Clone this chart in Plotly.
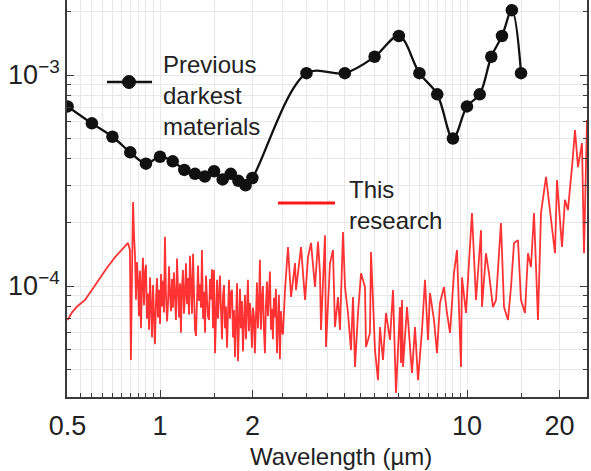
import numpy as np
import plotly.graph_objects as go

# Reflectance of earlier ultra-black materials (discrete measurements)
prev_wl = [0.5, 0.6, 0.7, 0.8, 0.9, 1.0, 1.1, 1.2, 1.3, 1.4, 1.5, 1.6, 1.7, 1.8, 1.9, 2.0,
           3, 4, 5, 6, 7, 8, 9, 10, 11, 12, 13, 14, 15]
prev_refl = [7.1e-4, 5.9e-4, 5.1e-4, 4.3e-4, 3.8e-4, 4.1e-4, 3.9e-4, 3.55e-4, 3.4e-4, 3.3e-4,
             3.5e-4, 3.2e-4, 3.4e-4, 3.15e-4, 3.0e-4, 3.25e-4,
             1.02e-3, 1.02e-3, 1.22e-3, 1.53e-3, 1.02e-3, 8.1e-4, 5.0e-4, 7.1e-4, 8.1e-4,
             1.22e-3, 1.53e-3, 2.03e-3, 1.02e-3]

# Measured spectrum of this work, visible / near-IR detector (0.5-2.5 µm)
vis_wl = [
    0.500, 0.517, 0.537, 0.570, 0.600, 0.638, 0.672, 0.714, 0.752, 0.787,
    0.798, 0.804, 0.811, 0.817, 0.823, 0.829, 0.835, 0.841, 0.848, 0.854,
    0.861, 0.867, 0.874, 0.880, 0.887, 0.893, 0.900, 0.907, 0.914, 0.921,
    0.928, 0.935, 0.942, 0.949, 0.956, 0.963, 0.971, 0.978, 0.985, 0.993,
    1.000, 1.008, 1.015, 1.023, 1.030, 1.038, 1.046, 1.054, 1.062, 1.070,
    1.078, 1.086, 1.094, 1.102, 1.110, 1.119, 1.127, 1.136, 1.144, 1.153,
    1.162, 1.170, 1.179, 1.188, 1.197, 1.206, 1.215, 1.225, 1.234, 1.243,
    1.252, 1.262, 1.271, 1.281, 1.290, 1.300, 1.310, 1.320, 1.330, 1.340,
    1.350, 1.360, 1.370, 1.381, 1.391, 1.402, 1.412, 1.423, 1.433, 1.444,
    1.455, 1.466, 1.477, 1.488, 1.499, 1.511, 1.522, 1.534, 1.545, 1.557,
    1.568, 1.580, 1.592, 1.604, 1.616, 1.628, 1.640, 1.653, 1.665, 1.678,
    1.690, 1.703, 1.716, 1.729, 1.742, 1.755, 1.768, 1.782, 1.795, 1.808,
    1.822, 1.835, 1.849, 1.863, 1.877, 1.891, 1.906, 1.920, 1.934, 1.949,
    1.963, 1.978, 1.993, 2.008, 2.023, 2.038, 2.054, 2.069, 2.085, 2.100,
    2.116, 2.132, 2.148, 2.164, 2.180, 2.197, 2.213, 2.230, 2.247, 2.264,
    2.281, 2.298, 2.315, 2.333, 2.350, 2.368, 2.386, 2.404, 2.422, 2.440,
    2.458, 2.477, 2.496, 2.515,
]
# reflectance in units of 1e-5
vis_refl_e5 = [
    6.90, 7.50, 8.00, 8.60, 9.57, 11.0, 12.2, 13.7, 14.8, 16.0,
    14.8, 4.46, 12.0, 25.0, 17.5, 14.0, 8.6, 13.0, 10.5, 7.2,
    11.8, 6.3, 10.2, 13.6, 8.1, 11.5, 12.6, 7.0, 9.2, 6.2,
    11.0, 8.4, 5.7, 10.1, 7.4, 5.3, 8.8, 10.9, 7.1, 9.6,
    6.6, 11.4, 8.0, 10.6, 7.5, 17.1, 9.0, 6.8, 8.3, 12.4,
    9.1, 7.6, 10.8, 7.9, 11.6, 8.6, 6.9, 13.5, 9.3, 7.1,
    10.3, 6.0, 9.8, 11.9, 7.4, 9.0, 12.8, 8.2, 10.9, 7.3,
    13.9, 8.8, 7.4, 14.2, 9.5, 6.2, 5.8, 9.7, 12.5, 8.5,
    10.2, 7.9, 14.8, 7.0, 9.4, 6.0, 11.2, 8.7, 7.2, 6.9,
    10.8, 8.6, 12.0, 6.3, 11.9, 4.8, 8.6, 10.7, 7.0, 9.8,
    11.2, 7.7, 5.6, 9.0, 10.1, 6.3, 8.0, 5.1, 8.6, 10.7,
    7.0, 9.3, 9.6, 5.7, 7.7, 4.6, 6.9, 10.3, 4.4, 6.9,
    9.7, 6.3, 8.5, 4.9, 7.7, 9.1, 5.6, 8.6, 10.7, 6.1,
    8.3, 7.0, 5.1, 7.9, 7.2, 4.8, 8.6, 10.4, 6.3, 8.0,
    13.3, 6.2, 8.6, 10.0, 6.2, 4.8, 8.0, 10.5, 7.2, 9.1,
    11.7, 6.2, 7.8, 5.6, 8.8, 7.1, 9.7, 4.8, 6.9, 9.1,
    4.5, 7.6, 6.1, 5.9,
]

# Measured spectrum of this work, mid-IR detector (2.5-25 µm)
ir_wl = [
    2.554, 2.612, 2.672, 2.753, 2.773, 2.880, 2.968, 3.035, 3.104, 3.198,
    3.271, 3.320, 3.345, 3.447, 3.473, 3.579, 3.660, 3.715, 3.800, 3.857,
    3.945, 4.005, 4.096, 4.189, 4.253, 4.317, 4.416, 4.516, 4.653, 4.688,
    4.830, 4.867, 5.016, 5.130, 5.207, 5.326, 5.447, 5.613, 5.741, 5.871,
    6.050, 6.096, 6.141, 6.188, 6.377, 6.620, 6.771, 6.925, 7.136, 7.298,
    7.464, 7.577, 7.807, 7.985, 8.167, 8.415, 8.606, 8.802, 9.070, 9.276,
    9.560, 9.632, 9.925, 10.15, 10.38, 10.70, 11.11, 11.19, 11.53, 11.79,
    12.15, 12.43, 12.90, 13.20, 13.60, 13.91, 14.23, 14.66, 14.99, 15.45,
    15.80, 16.16, 16.53, 17.03, 17.42, 18.09, 18.64, 19.35, 19.64, 20.39,
    20.85, 21.32, 21.98, 22.48, 22.99, 23.69, 24.05, 24.60,
]
ir_refl_e5 = [
    9.6, 15.3, 8.87, 12.85, 9.57, 15.3, 8.58, 13.7, 16.0, 9.89,
    16.2, 11.5, 6.19, 17.4, 5.14, 12.85, 14.8, 6.39, 8.87, 6.19,
    18.0, 9.89, 7.45, 4.97, 8.87, 4.13, 7.45, 11.5, 9.89, 5.14,
    5.99, 14.5, 4.97, 3.58, 6.39, 4.46, 7.45, 5.55, 9.57, 3.11,
    7.95, 4.32, 8.58, 4.13, 7.95, 3.87, 6.39, 3.58, 6.19, 10.7,
    5.55, 9.27, 6.90, 4.81, 8.31, 9.89, 7.45, 5.99, 11.5, 14.8,
    4.13, 11.0, 7.45, 12.3, 22.2, 8.58, 18.4, 7.95, 14.3, 11.5,
    7.95, 8.58, 19.9, 7.95, 6.90, 9.89, 16.0, 16.5, 8.58, 7.45,
    14.3, 12.3, 22.2, 6.90, 22.2, 32.9, 22.9, 14.3, 31.8, 15.3,
    25.6, 22.9, 36.6, 54.9, 36.6, 47.6, 14.3, 61.2,
]

this_wl = vis_wl + ir_wl
this_refl = np.array(vis_refl_e5 + ir_refl_e5) * 1e-5

x_major = [0.5, 1, 2, 10, 20]
x_major_text = ["0.5", "1", "2", "10", "20"]
x_minor = ([0.55, 0.6, 0.65, 0.7, 0.75, 0.8, 0.85, 0.9, 0.95, 1.5]
           + [2.5, 3, 3.5, 4, 4.5, 5, 5.5, 6, 6.5, 7, 7.5, 8, 8.5, 9, 9.5, 15])
y_major = [1e-4, 1e-3]
y_major_text = ["10<sup>−4</sup>", "10<sup>−3</sup>"]
y_minor = [3e-5, 4e-5, 5e-5, 6e-5, 7e-5, 8e-5, 9e-5,
           2e-4, 3e-4, 4e-4, 5e-4, 6e-4, 7e-4, 8e-4, 9e-4, 2e-3]

FONT = "Arial, Liberation Sans, Helvetica, sans-serif"
TXT = "#222222"
AXC = "#3a3a3a"
GRID = "#e8e8e8"

fig = go.Figure()
fig.add_trace(go.Scatter(
    x=this_wl, y=this_refl, mode="lines",
    line=dict(color="rgba(255,0,0,0.8)", width=1.8),
    showlegend=False,
))
fig.add_trace(go.Scatter(
    x=prev_wl, y=prev_refl, mode="lines+markers",
    line=dict(color="#111111", width=2.3, shape="spline", smoothing=1.0),
    marker=dict(color="#111111", size=12.5),
    showlegend=False,
))

W, H = 591, 471
L, R, T, B = 67, 4, 0, 74
pw, ph = W - L - R, H - T - B


def px(xp):
    return (xp - L) / pw


def py(yp):
    return (H - B - yp) / ph


# Legend keys
fig.add_shape(type="line", xref="paper", yref="paper",
              x0=px(107), x1=px(152), y0=py(82), y1=py(82),
              line=dict(color="#111111", width=2.5))
fig.add_shape(type="circle", xref="paper", yref="paper",
              xsizemode="pixel", ysizemode="pixel",
              xanchor=px(129), yanchor=py(82),
              x0=-6.5, x1=6.5, y0=-6.5, y1=6.5,
              fillcolor="#111111", line=dict(color="#111111", width=1))
fig.add_shape(type="line", xref="paper", yref="paper",
              x0=px(278), x1=px(335), y0=py(203), y1=py(203),
              line=dict(color="#ff1a1a", width=3))
fig.add_annotation(xref="paper", yref="paper", x=px(161), y=py(95),
                   xanchor="left", yanchor="middle", align="left", showarrow=False,
                   text="Previous<br>darkest<br>materials",
                   font=dict(family=FONT, size=24, color=TXT))
fig.add_annotation(xref="paper", yref="paper", x=px(347), y=py(205),
                   xanchor="left", yanchor="middle", align="left", showarrow=False,
                   text="This<br>research",
                   font=dict(family=FONT, size=24, color=TXT))
# x-axis title
fig.add_annotation(xref="paper", yref="paper", x=px(341), y=py(456),
                   xanchor="center", yanchor="middle", showarrow=False,
                   text="Wavelength (µm)",
                   font=dict(family=FONT, size=24, color=TXT))

fig.update_xaxes(
    type="log", range=[np.log10(0.5) - 0.0019, 1.3909],
    tickmode="array", tickvals=x_major, ticktext=x_major_text,
    ticks="inside", ticklen=7, tickwidth=1.3, tickcolor=AXC,
    showline=True, linecolor=AXC, linewidth=1.8, mirror=False,
    showgrid=True, gridcolor=GRID, gridwidth=1, zeroline=False,
    minor=dict(tickmode="array", tickvals=x_minor, ticks="inside", ticklen=4,
               tickwidth=1.2, tickcolor=AXC, showgrid=True, gridcolor=GRID, gridwidth=1),
    tickfont=dict(family=FONT, size=27, color=TXT),
    ticklabelstandoff=4,
)
fig.update_yaxes(
    type="log", range=[-4.526, -2.6445],
    tickmode="array", tickvals=y_major, ticktext=y_major_text,
    ticks="inside", ticklen=7, tickwidth=1.3, tickcolor=AXC,
    showline=True, linecolor=AXC, linewidth=1.8, mirror="allticks",
    showgrid=True, gridcolor=GRID, gridwidth=1, zeroline=False,
    minor=dict(tickmode="array", tickvals=y_minor, ticks="inside", ticklen=4,
               tickwidth=1.2, tickcolor=AXC, showgrid=True, gridcolor=GRID, gridwidth=1),
    tickfont=dict(family=FONT, size=27, color=TXT),
)
fig.update_layout(
    width=W, height=H,
    margin=dict(l=L, r=R, t=T, b=B),
    paper_bgcolor="white", plot_bgcolor="white",
    showlegend=False,
)

fig.write_html("out.html")
